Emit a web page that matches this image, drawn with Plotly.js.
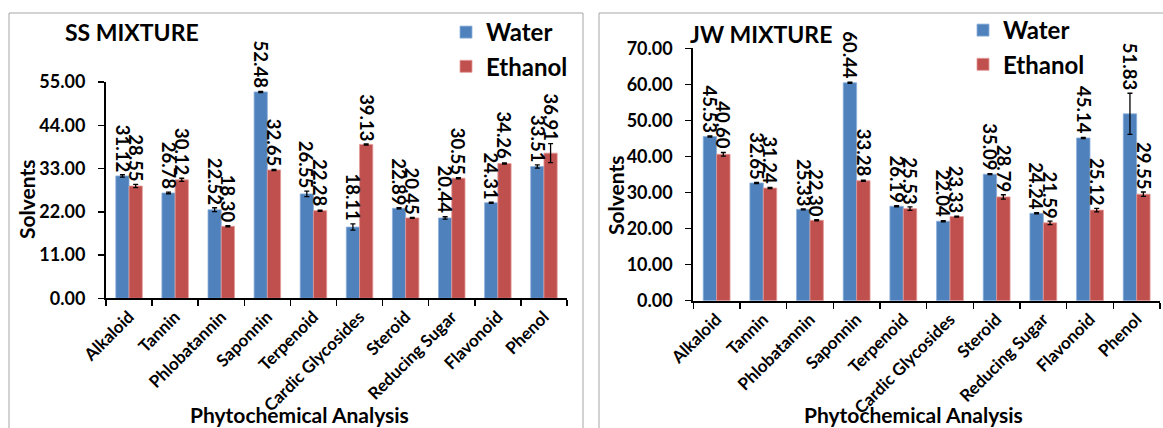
<!DOCTYPE html>
<html>
<head>
<meta charset="utf-8">
<script src="https://cdn.plot.ly/plotly-3.0.1.min.js"></script>
<style>html,body{margin:0;padding:0;background:#fff;}#chart{width:1163px;height:428px;}</style>
</head>
<body>
<div id="chart"></div>
<script>
// ---- data ----
const categories = ["Alkaloid","Tannin","Phlobatannin","Saponnin","Terpenoid","Cardic Glycosides","Steroid","Reducing Sugar","Flavonoid","Phenol"];
const ssWater    = [31.12, 26.78, 22.52, 52.48, 26.55, 18.11, 22.89, 20.44, 24.31, 33.51];
const ssWaterErr = [0.30, 0.20, 0.50, 0.15, 0.70, 0.80, 0.15, 0.30, 0.15, 0.40];
const ssEthanol    = [28.55, 30.12, 18.30, 32.65, 22.28, 39.13, 20.45, 30.55, 34.26, 36.91];
const ssEthanolErr = [0.40, 0.40, 0.15, 0.15, 0.15, 0.15, 0.15, 0.15, 0.15, 2.40];
const jwWater    = [45.53, 32.65, 25.33, 60.44, 26.19, 22.04, 35.09, 24.24, 45.14, 51.83];
const jwWaterErr = [0.15, 0.15, 0.15, 0.15, 0.15, 0.15, 0.15, 0.15, 0.15, 5.70];
const jwEthanol    = [40.60, 31.24, 22.30, 33.28, 25.53, 23.33, 28.79, 21.59, 25.12, 29.55];
const jwEthanolErr = [0.50, 0.15, 0.15, 0.15, 0.50, 0.15, 0.60, 0.50, 0.50, 0.60];
const seriesNames = ["Water", "Ethanol"];
const panelTitles = ["SS MIXTURE", "JW MIXTURE"];
const xTitle = "Phytochemical Analysis";
const yTitle = "Solvents";

// ---- styling ----
const W = 1163, H = 428;
const FONT = "Lato, 'Open Sans', 'DejaVu Sans', sans-serif";
const BLUE = "#4F81BD", RED = "#C0504D";
const BARGAP = 0.425;
const px = v => v / W;
const py = v => 1 - v / H;
const b = s => "<b>" + s + "</b>";

function barTrace(name, y, err, color, edge, xa, ya, leg) {
  return {
    type: "bar", name: b(name), x: categories, y: y,
    xaxis: xa, yaxis: ya, legend: leg, showlegend: true,
    legendgroup: leg + name,
    marker: {color: color, line: {width: 0.8, color: edge}},
    error_y: {type: "data", array: err, visible: true, color: "#000", thickness: 1.3, width: 2.5},
    hoverinfo: "x+y"
  };
}

const data = [
  barTrace(seriesNames[0], ssWater, ssWaterErr, BLUE, "#8DB0DA", "x", "y", "legend"),
  barTrace(seriesNames[1], ssEthanol, ssEthanolErr, RED, "#E29A98", "x", "y", "legend"),
  barTrace(seriesNames[0], jwWater, jwWaterErr, BLUE, "#8DB0DA", "x2", "y2", "legend2"),
  barTrace(seriesNames[1], jwEthanol, jwEthanolErr, RED, "#E29A98", "x2", "y2", "legend2")
];

const annotations = [];
const off = (1 - BARGAP) / 4;
const labelFont = {family: FONT, size: 18.5, color: "#000"};
function addLabels(vals, errs, xref, yref, shift) {
  vals.forEach((v, i) => {
    annotations.push({
      xref: xref, yref: yref, x: i + shift, y: v + errs[i],
      text: b(v.toFixed(2)), showarrow: false, textangle: 90,
      xanchor: "center", yanchor: "bottom", yshift: 1,
      font: labelFont
    });
  });
}
addLabels(ssWater, ssWaterErr, "x", "y", -off);
addLabels(ssEthanol, ssEthanolErr, "x", "y", off);
addLabels(jwWater, jwWaterErr, "x2", "y2", -off);
addLabels(jwEthanol, jwEthanolErr, "x2", "y2", off);

const titleFont = {family: FONT, size: 21, color: "#000"};
const panelFont = {family: FONT, size: 23, color: "#000"};
function txt(text, x, y, angle, font, xanchor) {
  annotations.push({xref: "paper", yref: "paper", x: px(x), y: py(y), xanchor: xanchor || "center", yanchor: "middle",
    text: b(text), showarrow: false, textangle: angle, font: font});
}
// panel titles
txt(panelTitles[0], 63, 32, 0, panelFont, "left");
txt(panelTitles[1], 688, 34, 0, panelFont, "left");
// axis titles
txt(xTitle, 188, 414, 0, titleFont, "left");
txt(xTitle, 802, 414, 0, titleFont, "left");
txt(yTitle, 26, 200, -90, titleFont);
txt(yTitle, 616, 196, -90, titleFont);

const tickFont = {family: FONT, size: 18, color: "#000", weight: "bold"};
const xTickFont = {family: FONT, size: 17, color: "#000", weight: "bold"};

function xAxis(domain, anchor) {
  return {
    domain: domain, anchor: anchor, type: "category",
    showline: true, linecolor: "#000", linewidth: 2,
    ticks: "outside", tickson: "boundaries", ticklen: 6, tickwidth: 1.5, tickcolor: "#000",
    tickangle: -45, tickfont: xTickFont, showgrid: false, zeroline: false,
    automargin: false
  };
}
function yAxis(domain, anchor, range, dtick) {
  return {
    domain: domain, anchor: anchor, range: range, dtick: dtick, tick0: 0,
    tickformat: ".2f", showline: true, linecolor: "#000", linewidth: 2,
    ticks: "outside", ticklen: 6, tickwidth: 1.5, tickcolor: "#000",
    tickfont: tickFont, ticklabelstandoff: 9, showgrid: false, zeroline: false,
    automargin: false
  };
}

const legendFont = {family: FONT, size: 24, color: "#000"};
const layout = {
  width: W, height: H,
  margin: {l: 0, r: 0, t: 0, b: 0},
  paper_bgcolor: "#fff", plot_bgcolor: "rgba(0,0,0,0)",
  barmode: "group", bargap: BARGAP, bargroupgap: 0,
  font: {family: FONT, color: "#000"},
  xaxis: xAxis([px(106), px(567)], "y"),
  yaxis: yAxis([py(298.3), py(82)], "x", [0, 55], 11),
  xaxis2: xAxis([px(693.3), px(1160)], "y2"),
  yaxis2: yAxis([py(300.7), py(48.3)], "x2", [0, 70], 10),
  legend: {x: px(446), y: py(10), xanchor: "left", yanchor: "top", bgcolor: "rgba(0,0,0,0)",
    font: legendFont, tracegroupgap: 4, traceorder: "normal"},
  legend2: {x: px(963), y: py(8), xanchor: "left", yanchor: "top", bgcolor: "rgba(0,0,0,0)",
    font: legendFont, tracegroupgap: 0, traceorder: "normal"},
  annotations: annotations,
  shapes: [
    {type: "rect", xref: "paper", yref: "paper", x0: px(9), x1: px(583), y0: -0.1, y1: py(13),
     line: {color: "#A6A6A6", width: 1}, fillcolor: "rgba(0,0,0,0)", layer: "below"},
    {type: "rect", xref: "paper", yref: "paper", x0: px(599), x1: 1.1, y0: -0.1, y1: py(13),
     line: {color: "#A6A6A6", width: 1}, fillcolor: "rgba(0,0,0,0)", layer: "below"}
  ]
};

Plotly.newPlot("chart", data, layout, {displayModeBar: false, staticPlot: true});
</script>
</body>
</html>
